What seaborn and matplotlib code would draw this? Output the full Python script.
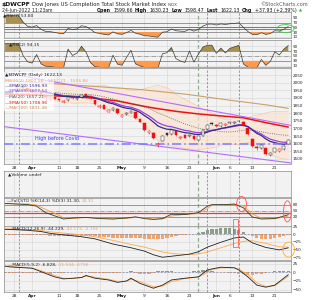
import numpy as np
import pandas as pd
import matplotlib
matplotlib.use('Agg')
import matplotlib.pyplot as plt
import seaborn as sns
from matplotlib.patches import Ellipse, Rectangle

# ---------------- data ----------------
day_idx = list(range(64))
tick_pos = [2, 6, 12, 16, 21, 26, 31, 36, 41, 47, 50, 55, 60]
tick_lab = ['28', 'Apr', '11', '18', '25', 'May', '9', '16', '23', 'Jun', '6', '13', '21']

opens = [1925, 1940, 1928, 1960, 1978, 1962, 1950, 1935, 1945, 1918,
         1890, 1905, 1892, 1870, 1885, 1908, 1890, 1905, 1925, 1912,
         1885, 1840, 1852, 1808, 1820, 1830, 1778, 1792, 1802, 1805,
         1760, 1735, 1670, 1672, 1590, 1620, 1668, 1662, 1680, 1635,
         1660, 1650, 1652, 1625, 1652, 1695, 1735, 1725, 1715, 1722,
         1733, 1738, 1748, 1745, 1700, 1630, 1580, 1575, 1570, 1525,
         1548, 1552, 1568, 1599.66]
highs = [1948, 1945, 1955, 1990, 1982, 1968, 1955, 1955, 1948, 1920,
         1910, 1908, 1895, 1888, 1910, 1910, 1905, 1925, 1928, 1915,
         1888, 1858, 1855, 1825, 1842, 1832, 1795, 1808, 1822, 1808,
         1762, 1738, 1692, 1675, 1610, 1655, 1672, 1692, 1682, 1652,
         1665, 1662, 1658, 1652, 1695, 1728, 1740, 1730, 1740, 1738,
         1745, 1750, 1758, 1750, 1702, 1635, 1590, 1598, 1575, 1545,
         1575, 1570, 1590, 1630.23]
lows = [1920, 1925, 1925, 1955, 1960, 1940, 1935, 1930, 1920, 1880,
        1885, 1890, 1880, 1865, 1880, 1892, 1885, 1900, 1910, 1892,
        1855, 1835, 1828, 1805, 1815, 1795, 1772, 1788, 1798, 1765,
        1740, 1685, 1665, 1630, 1580, 1615, 1650, 1658, 1650, 1628,
        1635, 1642, 1625, 1618, 1648, 1690, 1722, 1712, 1710, 1718,
        1728, 1732, 1742, 1715, 1660, 1580, 1560, 1568, 1525, 1518,
        1545, 1548, 1562, 1598.47]
closes = [1935, 1938, 1950, 1985, 1965, 1945, 1940, 1950, 1925, 1905,
          1903, 1895, 1885, 1880, 1905, 1897, 1900, 1920, 1915, 1897,
          1860, 1850, 1830, 1818, 1835, 1800, 1790, 1800, 1815, 1770,
          1745, 1690, 1680, 1635, 1600, 1650, 1655, 1688, 1655, 1645,
          1640, 1660, 1630, 1648, 1690, 1725, 1728, 1718, 1735, 1730,
          1740, 1745, 1752, 1720, 1665, 1585, 1570, 1590, 1530, 1540,
          1572, 1565, 1584.2, 1622.13]

ema50_pos = [0, 5, 10, 15, 20, 25, 30, 33, 38, 43, 48, 53, 58, 63]
ema50_val = [1925, 1922, 1915, 1908, 1898, 1880, 1850, 1834, 1812, 1795, 1782, 1770, 1738, 1709]
ma100_pos = [0, 10, 20, 30, 40, 50, 58, 63]
ma100_val = [2015, 1995, 1975, 1955, 1925, 1885, 1855, 1831]
upper_trend_pos = [-0.3, 63.6]
upper_trend_val = [2066, 1720]
lower_trend_pos = [-0.3, 63.6]
lower_trend_val = [1712, 1474]
covid_high = 1600

sto_pos = [0, 5, 7, 9, 12, 13, 15, 18, 21, 24, 27, 29, 31, 33, 35, 37, 40, 43, 45, 46, 49, 51, 53, 55, 57, 60, 63]
sto_k = [88, 82, 74, 42, 18, 10, 15, 18, 12, 10, 15, 21, 12, 8, 12, 34, 32, 42, 74, 82, 82, 85, 66, 20, 10, 12, 31.3]
sto_d = [86, 85, 80, 58, 28, 15, 13, 17, 14, 11, 13, 18, 16, 10, 10, 25, 33, 38, 62, 78, 81, 83, 76, 35, 14, 11, 24.3]

macd1_pos = [0, 2, 5, 8, 10, 13, 17, 20, 24, 28, 31, 33, 35, 38, 41, 43, 45, 48, 51, 53, 55, 58, 61, 63]
macd1_line = [16, 15, 13, 9, 3, -2, -8, -15, -32, -44, -55, -67, -75, -70, -65, -57, -42, -26, -12, -9, -28, -43, -51, -44.2]
macd1_sig = [18, 17, 15, 12, 8, 4, -2, -8, -20, -33, -42, -50, -58, -64, -66, -64, -58, -44, -30, -23, -21, -30, -41, -42.2]
macd1_hist = [-2, -2, -2, -2, -2, -3, -3, -3, -3, -4,
              -5, -5, -5, -6, -6, -6, -6, -6, -7, -7,
              -7, -8, -9, -10, -11, -11, -11, -11, -11, -12,
              -13, -14, -16, -17, -17, -15, -12, -9, -6, -4,
              -2, 0, 2, 5, 9, 14, 17, 18, 19, 19,
              19, 18, 14, 8, 0, -7, -12, -15, -16, -15,
              -12, -9, -5, -2.2]

macd2_pos = [0, 1, 6, 8, 11, 13, 15, 17, 18, 20, 23, 25, 27, 28, 30, 33, 35, 37, 40, 43, 45, 46, 48, 51, 52, 54, 56, 58, 60, 63]
macd2_line = [18, 16, 12, 2, -13, -19, -17, -15, -9, -17, -22, -29, -25, -17, -32, -46, -37, -22, -17, -13, 7, 10, 15, 13, 7, -13, -37, -43, -37, -6.8]
macd2_sig = [19, 17, 13, 5, -9, -17, -18, -15, -11, -14, -20, -26, -26, -20, -27, -42, -40, -27, -18, -14, 0, 8, 13, 14, 9, -6, -30, -41, -39, -11.5]
macd2_hist = [-1, -1, -1, -2, -3, -3, -2, -2, -3, -3,
              -4, -3, -2, -2, 0, 1, 0, -1, 2, -2,
              -3, -2, -2, -2, -3, -3, 0, 2, 3, -3,
              -4, -5, -4, -3, 3, 4, 4, 3, 1, 0,
              1, 2, 3, 5, 8, 6, 3, 2, 2, 0,
              -1, -2, -4, -6, -8, -7, -6, -4, -2, 1,
              3, 4, 4, 4.7]

red_marks = [3, 45, 52]
green_marks = [43]

# ---------------- figure ----------------
sns.set_theme(style='white')
plt.rcParams['font.family'] = ['DejaVu Sans']
W, H = 312, 300
fig = plt.figure(figsize=(3.12, 3.0), dpi=100)
fig.patch.set_facecolor('white')


def box(top, bottom, left=4, right=291):
    return [left / W, 1 - bottom / H, (right - left) / W, (bottom - top) / H]


def panel(top, bottom, ylim, yticks, zorder=0):
    ax = fig.add_axes(box(top, bottom))
    ax.set_zorder(zorder)
    ax.set_facecolor('#f2f2f2')
    ax.set_xlim(-0.25, 63.6)
    ax.set_ylim(*ylim)
    ax.set_xticks(tick_pos)
    ax.set_yticks(yticks)
    ax.grid(True, color='#d4d4d4', lw=0.4)
    ax.set_axisbelow(True)
    for sp in ax.spines.values():
        sp.set_color('#8c8c8c')
        sp.set_linewidth(0.5)
    ax.yaxis.tick_right()
    ax.tick_params(axis='both', length=0, pad=1.2, labelsize=3.0, colors='#222222')
    ax.tick_params(axis='x', labelbottom=False)
    for m in red_marks:
        ax.axvline(m, color='#ff4a4a', lw=0.55, ls=(0, (3, 2)), zorder=1)
    for m in green_marks:
        ax.axvline(m, color='#8fae8f', lw=0.9, ls=(0, (3, 2)), zorder=1)
    return ax


def px(x, y):
    return x / W, 1 - y / H


def rich(x, y, pieces, size=3.2, z=8, gap=1.2):
    r = fig.canvas.get_renderer()
    for piece in pieces:
        txt, col, wt = piece[:3]
        sz = piece[3] if len(piece) > 3 else size
        t = fig.text(*px(x, y), txt, color=col, fontsize=sz, fontweight=wt,
                     va='center', ha='left', zorder=z)
        x += t.get_window_extent(renderer=r).width + gap


s = pd.Series(closes, dtype=float)
ema10 = s.ewm(span=10, adjust=False).mean()
ema13 = s.ewm(span=13, adjust=False).mean()
ma20 = s.rolling(20, min_periods=1).mean()
sd20 = s.rolling(20, min_periods=2).std(ddof=0).fillna(0)
bb_up = ma20 + 2 * sd20
bb_lo = ma20 - 2 * sd20
d = s.diff()


def rsi(n):
    up = d.clip(lower=0).ewm(alpha=1 / n, adjust=False).mean()
    dn = (-d.clip(upper=0)).ewm(alpha=1 / n, adjust=False).mean()
    return (100 - 100 / (1 + up / dn.replace(0, 1e-9))).bfill()


rsi7 = rsi(7)
rsi2 = rsi(2)

# ---------------- RSI panels ----------------
def rsi_panel(top, bottom, vals, z):
    ax = panel(top, bottom, (5, 115), [90, 70, 50, 30, 10], zorder=z)
    v = vals.values
    ax.fill_between(day_idx, 70, v, where=v > 70, interpolate=True, color='#a89050', lw=0, clip_on=False, zorder=2)
    ax.fill_between(day_idx, 30, v, where=v < 30, interpolate=True, color='#ff9a4a', lw=0, clip_on=False, zorder=2)
    ax.axhline(70, color='#7a7a7a', lw=0.5, zorder=1.5)
    ax.axhline(30, color='#7a7a7a', lw=0.5, zorder=1.5)
    ax.axhline(50, color='#8a8a8a', lw=0.5, ls='-.', zorder=1.5)
    sns.lineplot(x=day_idx, y=v, ax=ax, color='#3c3c3c', lw=0.5, legend=False, zorder=3)
    ax.set_xlabel('')
    ax.set_ylabel('')
    return ax

ax_r7 = rsi_panel(12, 38, rsi7, 1)
ax_r7.axhline(53, color='#ff3030', lw=0.6, zorder=1.6)
ax_r7.axhline(44.5, color='#ff3030', lw=0.6, zorder=1.6)
ax_r7.add_patch(Ellipse((62.4, 45), 3.8, 34, fill=False, ec='#44cc44', lw=0.6, clip_on=False, zorder=6))
ax_r2 = rsi_panel(40, 67, rsi2, 2)

# ---------------- price panel ----------------
ax_p = panel(68, 164, (1467, 2096), list(range(1500, 2051, 50)), zorder=0)
ax_p.tick_params(axis='x', labelbottom=True, labelsize=3.2, pad=1.5)
ax_p.set_xticklabels(tick_lab)
ax_p.fill_between(day_idx, bb_lo, bb_up, color='#fbe3d2', alpha=0.7, lw=0, zorder=1)
ax_p.plot(day_idx, bb_up, color='#f2c4a4', lw=0.4, zorder=1.2)
ax_p.plot(day_idx, bb_lo, color='#f2c4a4', lw=0.4, zorder=1.2)
sns.lineplot(x=ma100_pos, y=ma100_val, ax=ax_p, color='#c8a26a', lw=0.8, legend=False, zorder=2)
sns.lineplot(x=ema50_pos, y=ema50_val, ax=ax_p, color='#ee1111', lw=1.1, legend=False, zorder=2)
sns.lineplot(x=day_idx, y=ma20.values, ax=ax_p, color='#555555', lw=0.6, linestyle=':', legend=False, zorder=2)
sns.lineplot(x=day_idx, y=ema13.values, ax=ax_p, color='#9b3fe0', lw=0.9, legend=False, zorder=2.2)
sns.lineplot(x=day_idx, y=ema10.values, ax=ax_p, color='#2e2e8c', lw=0.9, legend=False, zorder=2.3)
ax_p.plot(upper_trend_pos, upper_trend_val, color='#b46cff', lw=0.8, zorder=2.5)
ax_p.plot(lower_trend_pos, lower_trend_val, color='#b46cff', lw=0.8, zorder=2.5)
ax_p.axhline(covid_high, color='#7a7aff', lw=1.1, ls=(0, (6, 2, 1, 2)), zorder=2.6)
ax_p.text(11.5, 1637, 'High before Covid', color='#3c3cff', fontsize=3.5, ha='center', va='center', zorder=3)
prev = [closes[0]] + closes[:-1]
for j in day_idx:
    o, h, l, c, p = opens[j], highs[j], lows[j], closes[j], prev[j]
    col = '#ee1111' if c < p else '#333333'
    ax_p.vlines(j, l, h, color=col, lw=0.4, zorder=3)
    hollow = c >= o
    ax_p.bar(j, max(abs(c - o), 2.0), bottom=min(o, c), width=0.62,
             facecolor='white' if hollow else col, edgecolor=col, lw=0.35, zorder=4)
ax_p.set_xlabel('')
ax_p.set_ylabel('')
for lab in ax_p.get_xticklabels():
    if lab.get_text() in ('Apr', 'May', 'Jun'):
        lab.set_fontweight('bold')

# legend over price panel
fig.add_artist(Rectangle(px(4, 111), 50 / W, 39 / H, transform=fig.transFigure,
                         facecolor='white', alpha=0.72, edgecolor='none', zorder=5))
rich(5, 75, [('\u25B2$DWCPF (Daily) 1622.13', '#111111', 'normal')])
rich(5, 80.5, [('BB(20,2) 1807.56 - 1657.21 - 1506.86', '#f0a070', 'normal')])
rich(5, 86, [('\u2014EMA(10) 1596.93', '#2e2e8c', 'normal')])
rich(5, 91.5, [('\u2014EMA(13) 1607.54', '#9b3fe0', 'normal')])
rich(5, 97, [('\u00B7\u00B7\u00B7MA(20) 1657.21', '#555555', 'normal')])
rich(5, 102.5, [('\u2014EMA(50) 1708.96', '#ee1111', 'normal')])
rich(5, 108, [('\u2014MA(100) 1831.48', '#b8925a', 'normal')])

# ---------------- volume panel ----------------
ax_v = panel(171, 197, (0, 1), [])

# ---------------- STO panel ----------------
ax_s = panel(198, 226, (-25, 115), [80, 50, 20])
ax_s.axhline(80, color='#7a7a7a', lw=0.5)
ax_s.axhline(20, color='#7a7a7a', lw=0.5)
ax_s.axhline(50, color='#8a8a8a', lw=0.5, ls='-.')
ax_s.axhline(39, color='#ff3030', lw=0.9)
sns.lineplot(x=sto_pos, y=sto_d, ax=ax_s, color='#ff9a3a', lw=0.6, legend=False, zorder=3)
sns.lineplot(x=sto_pos, y=sto_k, ax=ax_s, color='#2f3f2f', lw=0.6, legend=False, zorder=3.1)
ax_s.add_patch(Ellipse((52.6, 85), 2.2, 75, fill=False, ec='#ff5555', lw=0.6, clip_on=False, zorder=6))
ax_s.add_patch(Ellipse((62.8, 48), 1.7, 106, fill=False, ec='#ff5555', lw=0.6, clip_on=False, zorder=6))
ax_s.set_xlabel('')
ax_s.set_ylabel('')

# ---------------- MACD(12,26,9) ----------------
ax_m1 = panel(226, 260, (-84, 27), [25, 0, -25, -50, -75], zorder=1)
ax_m1.bar(day_idx, macd1_hist, width=0.72,
          color=['#8a9e8a' if h > 0 else '#f2a468' for h in macd1_hist], lw=0, zorder=2)
ax_m1.axhline(0, color='#8888aa', lw=0.5, ls=(0, (3, 2)), zorder=2.1)
sns.lineplot(x=macd1_pos, y=macd1_sig, ax=ax_m1, color='#ffa850', lw=0.6, legend=False, zorder=3)
sns.lineplot(x=macd1_pos, y=macd1_line, ax=ax_m1, color='#222222', lw=0.6, legend=False, zorder=3.1)
ax_m1.add_patch(Rectangle((50.6, -42), 1.1, 91, fill=False, ec='#ff4444', lw=0.5, clip_on=False, zorder=6))
ax_m1.add_patch(Ellipse((63.1, -50), 2.6, 49, fill=False, ec='#ffaa33', lw=0.6, clip_on=False, zorder=6))
ax_m1.set_xlabel('')
ax_m1.set_ylabel('')

# ---------------- MACD(5,9,2) ----------------
ax_m2 = panel(261, 292, (-57, 33), [25, 0, -25, -50])
ax_m2.bar(day_idx, macd2_hist, width=0.72,
          color=['#8a9e8a' if h > 0 else '#f2a468' for h in macd2_hist], lw=0, zorder=2)
ax_m2.axhline(0, color='#8888aa', lw=0.5, ls=(0, (3, 2)), zorder=2.1)
sns.lineplot(x=macd2_pos, y=macd2_sig, ax=ax_m2, color='#ffa850', lw=0.6, legend=False, zorder=3)
sns.lineplot(x=macd2_pos, y=macd2_line, ax=ax_m2, color='#222222', lw=0.6, legend=False, zorder=3.1)
ax_m2.tick_params(axis='x', labelbottom=True, labelsize=3.2, pad=1.5)
ax_m2.set_xticklabels(tick_lab)
for lab in ax_m2.get_xticklabels():
    if lab.get_text() in ('Apr', 'May', 'Jun'):
        lab.set_fontweight('bold')
ax_m2.set_xlabel('')
ax_m2.set_ylabel('')

# ---------------- texts ----------------
rich(2, 4.5, [('$DWCPF', '#111111', 'bold', 4.4),
              ('Dow Jones US Completion Total Stock Market Index', '#222222', 'normal', 3.8),
              ('INDX', '#444444', 'normal', 2.9)], gap=1.5)
fig.text(*px(308, 4.5), '\u00A9StockCharts.com', fontsize=3.6, va='center', ha='right', color='#555555')
fig.text(*px(2, 10.5), '24-Jun-2022 11:23am', fontsize=3.3, va='center', color='#222222')
rich(97, 10.5, [('Open', '#111111', 'bold'), ('1599.66', '#111111', 'normal'),
                ('High', '#111111', 'bold'), ('1630.23', '#111111', 'normal'),
                ('Low', '#111111', 'bold'), ('1598.47', '#111111', 'normal'),
                ('Last', '#111111', 'bold'), ('1622.13', '#111111', 'normal'),
                ('Chg', '#111111', 'bold'), ('+37.93 (+2.39%)', '#111111', 'normal'),
                ('\u25B2', '#33aa33', 'normal', 2.8)], size=3.4, gap=2.3)

rich(3, 15.5, [('\u25B2RSI(7) 53.80', '#222222', 'normal')], z=8)
rich(9, 44, [('\u25B2RSI(2) 94.15', '#222222', 'normal')], z=8)
rich(8, 174, [('\u25B2Volume undef', '#222222', 'normal')], z=8)
rich(7, 201, [('\u2014Full STO %K(14,3) %D(3) 31.30,', '#222222', 'normal'), ('24.31', '#ff9a3a', 'normal')], z=8)
rich(8, 229.5, [('\u2014MACD(12,26,9) -44.229,', '#222222', 'normal'), ('-42.173,', '#ff9a3a', 'normal'),
                ('-2.156', '#f0a070', 'normal')], z=8)
rich(8, 264.5, [('\u2014MACD(5,9,2) -6.828,', '#222222', 'normal'), ('-11.534,', '#ff9a3a', 'normal'),
                ('4.706', '#f0a070', 'normal')], z=8)

fig.savefig('out.png', dpi=100, facecolor='white')
